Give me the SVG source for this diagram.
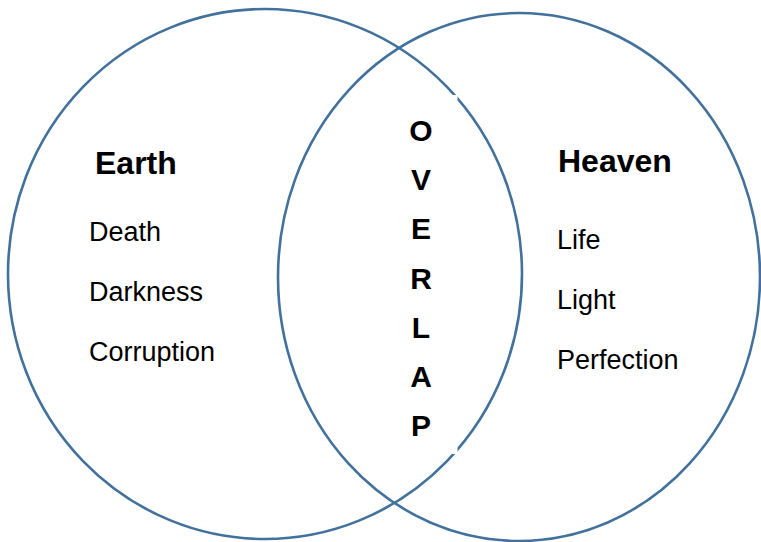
<svg xmlns="http://www.w3.org/2000/svg" width="761" height="542" viewBox="0 0 761 542">
  <style>
    .circ { fill: none; stroke: #41719C; stroke-width: 2.6; }
    .title { font-family: "Liberation Sans", Arial, sans-serif; font-weight: bold; font-size: 32px; fill: #000; }
    .item { font-family: "Liberation Sans", Arial, sans-serif; font-size: 27px; fill: #000; }
    .ov { font-family: "Liberation Sans", Arial, sans-serif; font-weight: bold; font-size: 30px; fill: #000; text-anchor: middle; }
  </style>
  <rect width="761" height="542" fill="#fff"/>
  <g id="connectors"></g>
  <g id="earth">
    <ellipse class="circ" cx="265" cy="274" rx="257" ry="265"/>
  </g>
  <rect x="420" y="95" width="37.5" height="359" fill="#fff"/>
  <g id="heaven">
    <ellipse class="circ" cx="519" cy="277" rx="241" ry="264"/>
  </g>
  <g id="earth-text">
    <text class="title" x="95" y="174">Earth</text>
    <text class="item" x="89" y="241">Death</text>
    <text class="item" x="89" y="301">Darkness</text>
    <text class="item" x="89" y="361">Corruption</text>
  </g>
  <g id="heaven-text">
    <text class="title" x="558" y="172">Heaven</text>
    <text class="item" x="557" y="249">Life</text>
    <text class="item" x="557" y="309">Light</text>
    <text class="item" x="557" y="369">Perfection</text>
  </g>
  <g id="overlap">
    <text class="ov" x="421" y="141">O</text>
    <text class="ov" x="421" y="190">V</text>
    <text class="ov" x="421" y="239">E</text>
    <text class="ov" x="421" y="289">R</text>
    <text class="ov" x="421" y="338">L</text>
    <text class="ov" x="421" y="387">A</text>
    <text class="ov" x="421" y="436">P</text>
  </g>
</svg>
